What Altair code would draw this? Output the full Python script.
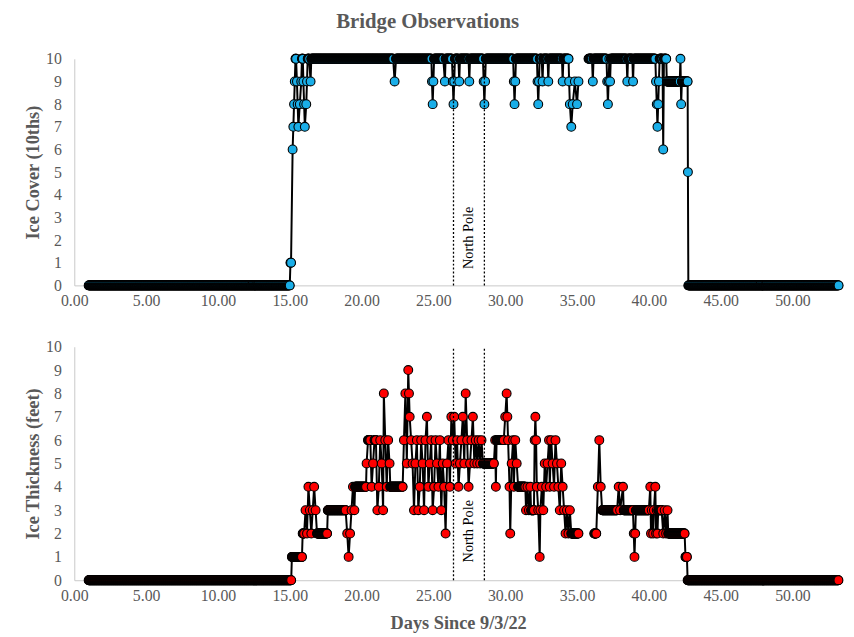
import altair as alt
import pandas as pd

# Observations.
# (day, value) = single observation ; (start_day, end_day, value) = run of repeated observations
STEP = 0.02
GAP = 0.5  # a pause in the record longer than this breaks the line

cover_obs = [
    (1.00, 15.00, 0), (15.05, 15.10, 1), (15.20, 6), (15.25, 7), (15.30, 8), (15.35, 9),
    (15.40, 15.45, 10), (15.50, 9), (15.55, 8), (15.60, 7), (15.70, 8), (15.80, 9),
    (15.85, 15.90, 10), (15.95, 9), (16.00, 8), (16.05, 7), (16.15, 8), (16.20, 9),
    (16.25, 16.35, 10), (16.45, 9), (16.50, 22.20, 10), (22.30, 9), (22.40, 24.85, 10),
    (24.90, 9), (24.95, 8), (25.00, 9), (25.05, 25.70, 10), (25.80, 9), (25.85, 26.30, 10),
    (26.35, 9), (26.40, 8), (26.45, 9), (26.50, 26.75, 10), (26.80, 9), (26.85, 27.45, 10),
    (27.50, 9), (27.55, 28.45, 10), (28.50, 9), (28.55, 8), (28.60, 9), (28.65, 30.55, 10),
    (30.60, 9), (30.65, 8), (30.70, 9), (30.75, 32.20, 10), (32.25, 9), (32.30, 8), (32.35, 9),
    (32.40, 32.55, 10), (32.60, 9), (32.65, 32.95, 10), (33.00, 9), (33.05, 33.95, 10),
    (34.00, 9), (34.05, 34.40, 10), (34.45, 9), (34.50, 8), (34.60, 7), (34.70, 8),
    (34.85, 9), (35.00, 8), (35.10, 9), (35.80, 36.05, 10), (36.10, 9), (36.15, 37.05, 10),
    (37.10, 9), (37.15, 8), (37.20, 9), (37.25, 10), (37.30, 9), (37.35, 38.45, 10),
    (38.50, 9), (38.55, 38.85, 10), (38.90, 9), (38.95, 40.45, 10), (40.50, 9), (40.55, 8),
    (40.60, 7), (40.65, 8), (40.70, 9), (40.75, 40.95, 10), (41.00, 6), (41.05, 41.20, 10),
    (41.25, 42.15, 9), (42.20, 10), (42.25, 8), (42.30, 42.70, 9), (42.72, 5),
    (42.75, 53.20, 0),
]

thick_obs = [
    (1.00, 15.10, 0), (15.15, 15.85, 1), (15.90, 16.00, 2), (16.10, 3), (16.20, 2), (16.30, 4),
    (16.40, 3), (16.50, 2), (16.60, 3), (16.70, 4), (16.80, 3), (16.90, 17.60, 2),
    (17.65, 18.90, 3), (19.00, 2), (19.10, 1), (19.20, 2), (19.30, 3), (19.40, 4), (19.50, 3),
    (19.55, 20.30, 4), (20.35, 5), (20.45, 20.60, 6), (20.70, 4), (20.80, 5), (20.90, 21.00, 6),
    (21.10, 3), (21.20, 4), (21.30, 6), (21.40, 5), (21.50, 3), (21.55, 8), (21.65, 6),
    (21.75, 4), (21.85, 6), (21.95, 5), (22.00, 22.85, 4), (22.95, 6), (23.05, 8), (23.15, 5),
    (23.25, 9), (23.30, 8), (23.35, 7), (23.45, 6), (23.55, 5), (23.65, 3), (23.75, 5),
    (23.85, 6), (23.95, 3), (24.05, 4), (24.15, 6), (24.25, 5), (24.35, 3), (24.45, 6),
    (24.55, 7), (24.65, 4), (24.75, 5), (24.85, 6), (24.95, 3), (25.05, 4), (25.15, 6),
    (25.25, 5), (25.35, 4), (25.45, 6), (25.55, 3), (25.65, 5), (25.75, 4), (25.85, 2),
    (25.95, 5), (26.05, 6), (26.15, 4), (26.25, 7), (26.35, 6), (26.45, 7), (26.55, 5),
    (26.65, 6), (26.75, 4), (26.85, 5), (26.95, 6), (27.05, 7), (27.15, 5), (27.25, 8),
    (27.35, 6), (27.45, 4), (27.55, 5), (27.65, 6), (27.75, 7), (27.85, 5), (27.95, 6),
    (28.05, 5), (28.15, 6), (28.25, 5), (28.35, 6), (28.45, 29.20, 5), (29.30, 6), (29.35, 4),
    (29.40, 29.90, 6), (30.00, 7), (30.10, 8), (30.15, 7), (30.20, 6), (30.30, 4), (30.35, 2),
    (30.45, 5), (30.55, 6), (30.60, 4), (30.70, 6), (30.80, 5), (30.90, 31.40, 4), (31.45, 3),
    (31.55, 4), (31.65, 3), (31.75, 4), (31.80, 32.00, 3), (32.05, 6), (32.10, 7), (32.15, 6),
    (32.20, 4), (32.30, 3), (32.40, 1), (32.45, 3), (32.55, 4), (32.65, 3), (32.75, 5),
    (32.85, 4), (32.95, 5), (33.05, 6), (33.10, 4), (33.20, 6), (33.30, 5), (33.40, 4),
    (33.50, 6), (33.60, 5), (33.70, 4), (33.80, 3), (33.90, 5), (34.00, 4), (34.10, 3),
    (34.20, 2), (34.30, 3), (34.40, 2), (34.50, 3), (34.60, 35.10, 2), (36.20, 36.35, 2),
    (36.45, 4), (36.55, 6), (36.65, 4), (36.75, 37.80, 3), (37.90, 4), (38.00, 3), (38.20, 4),
    (38.25, 38.90, 3), (38.95, 2), (39.00, 1), (39.05, 2), (39.10, 40.00, 3), (40.10, 4),
    (40.15, 2), (40.20, 3), (40.30, 2), (40.35, 3), (40.45, 4), (40.50, 2), (40.55, 3),
    (40.60, 2), (40.65, 40.90, 3), (41.00, 2), (41.10, 3), (41.20, 2), (41.30, 3),
    (41.35, 42.50, 2), (42.55, 42.65, 1), (42.70, 53.20, 0),
]

pole_days = [26.4, 28.55]
pole_label = ["North Pole"]
pole_label_day = [27.45]
pole_label_value = [2.1]
x_ticks = [0, 5, 10, 15, 20, 25, 30, 35, 40, 45, 50]
y_ticks = [0, 1, 2, 3, 4, 5, 6, 7, 8, 9, 10]

SERIF = "Liberation Serif"
GREY = "#595959"
X_MAX = 53.45


def expand(obs):
    rows = []
    for item in obs:
        if len(item) == 2:
            rows.append((item[0], item[1]))
        else:
            s, e, v = item
            n = int(round((e - s) / STEP))
            for i in range(n + 1):
                rows.append((round(s + i * STEP, 3), v))
    df = pd.DataFrame(rows, columns=["day", "value"])
    df["seq"] = range(len(df))
    df["part"] = (df["day"].diff().fillna(0) > GAP).cumsum()
    return df


def panel(df, fill, ytitle, xtitle, height):
    if xtitle:
        xaxis = alt.Axis(values=x_ticks, format=".2f", labelPadding=7, labelFlush=False,
                         labelOverlap=False, title=xtitle, titlePadding=11)
    else:
        xaxis = alt.Axis(values=x_ticks, format=".2f", labelPadding=7, labelFlush=False,
                         labelOverlap=False, title=None)
    yaxis = alt.Axis(values=y_ticks, format="d", title=ytitle, labelFlush=False,
                     labelOverlap=False, labelPadding=13, titlePadding=3)
    x = alt.X("day:Q", scale=alt.Scale(domain=[0, X_MAX], nice=False, zero=False), axis=xaxis)
    y = alt.Y("value:Q", scale=alt.Scale(domain=[0, 10], nice=False), axis=yaxis)
    yd0 = alt.Y(datum=0, scale=alt.Scale(domain=[0, 10], nice=False), axis=yaxis)
    base = alt.Chart(df)
    line = base.mark_line(color="black", strokeWidth=2, clip=False).encode(
        x=x, y=y, order="seq:Q", detail="part:N")
    pts = base.mark_circle(size=80, fill=fill, fillOpacity=1, opacity=1,
                           stroke="black", strokeWidth=1.1, clip=False).encode(x=x, y=y)
    rules = alt.Chart(pd.DataFrame({"day": pole_days})).mark_rule(
        color="black", strokeDash=[2, 2], strokeWidth=1.3).encode(
        x=x, y=yd0, y2=alt.datum(10))
    txt = alt.Chart(pd.DataFrame({"day": pole_label_day, "value": pole_label_value,
                                  "label": pole_label})).mark_text(
        angle=270, font=SERIF, fontSize=14.5, color="black", baseline="middle",
        align="center").encode(x=x, y=y, text="label:N")
    return alt.layer(line, pts, rules, txt).properties(width=776, height=height)


top = panel(expand(cover_obs), "#1AAEE8", "Ice Cover (10ths)", None, 229)
bottom = panel(expand(thick_obs), "#FF0000", "Ice Thickness (feet)", "Days Since 9/3/22", 236)

chart = alt.vconcat(top, bottom, spacing=31).properties(
    title=alt.TitleParams("Bridge Observations", font=SERIF, fontSize=21,
                          fontWeight="bold", color=GREY, anchor="middle", offset=19,
                          dx=-7),
    padding={"left": 16, "top": 0, "right": 0, "bottom": 0},
).configure_axis(
    labelFont=SERIF, labelFontSize=16, labelColor=GREY,
    titleFont=SERIF, titleFontSize=18.5, titleFontWeight="bold", titleColor=GREY,
    domainColor="#c8c8c8", domainWidth=1, ticks=False, grid=False,
).configure_view(stroke=None)

chart.save("out.html", embed_options={"renderer": "svg", "actions": False})
